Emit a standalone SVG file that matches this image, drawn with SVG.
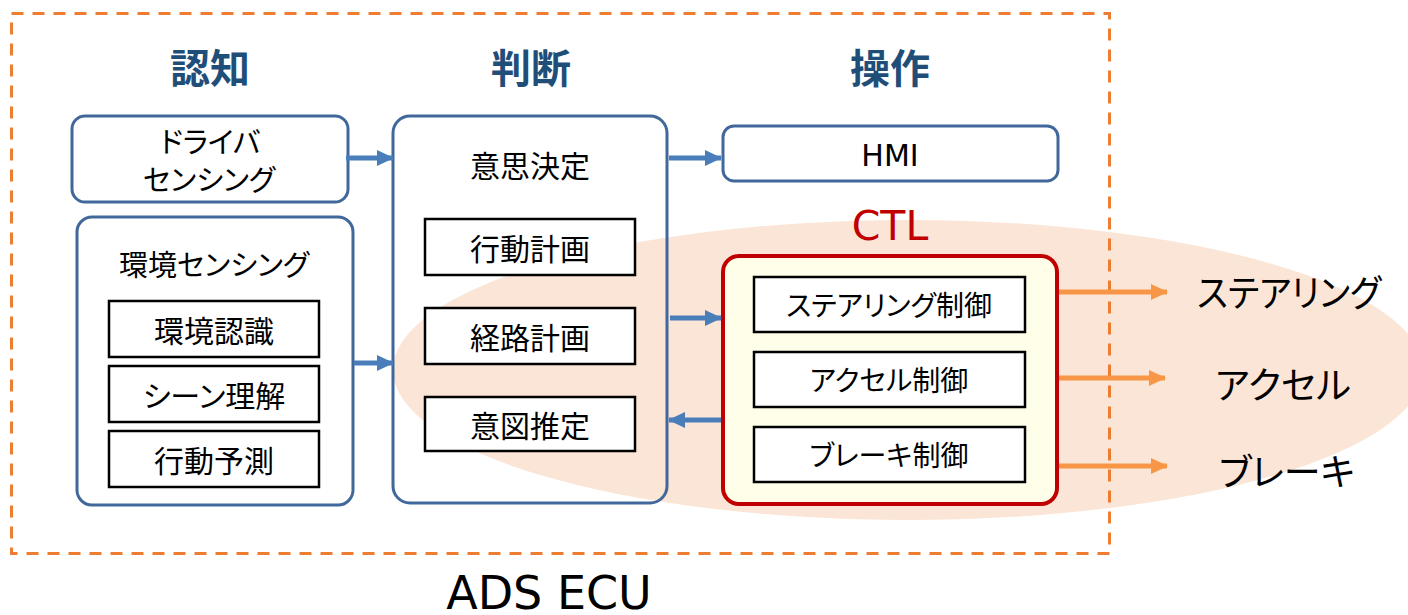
<svg xmlns="http://www.w3.org/2000/svg" width="1408" height="615" viewBox="0 0 1408 615">
<style>
.jp{font-family:"Noto Sans CJK JP","Noto Sans",sans-serif;font-feature-settings:"palt";fill:#000;text-anchor:middle;dominant-baseline:central}
.lat{font-family:"DejaVu Sans","Noto Sans",sans-serif;text-anchor:middle}
.hdr{font-family:"Noto Sans CJK JP",sans-serif;font-weight:bold;font-size:40px;fill:#1F4E79;text-anchor:middle;dominant-baseline:central}
.grp{fill:#fff;stroke:#41689B;stroke-width:3}
.inner{fill:#fff;stroke:#000;stroke-width:2.5}
.barr{stroke:#4A7EBB;stroke-width:5;fill:none}
.oarr{stroke:#F79646;stroke-width:5;fill:none}
</style>
<defs>
<marker id="bh" markerWidth="4" markerHeight="4" refX="3.2" refY="2" orient="auto" markerUnits="strokeWidth" viewBox="0 0 4 4"><path d="M0,0.4 L3.4,2 L0,3.6 Z" fill="#4A7EBB"/></marker>
<marker id="oh" markerWidth="4" markerHeight="4" refX="3.2" refY="2" orient="auto" markerUnits="strokeWidth" viewBox="0 0 4 4"><path d="M0,0.4 L3.4,2 L0,3.6 Z" fill="#F79646"/></marker>
</defs>
<rect width="1408" height="615" fill="#fff"/>
<ellipse id="ctl-area" cx="908" cy="370" rx="515" ry="150" fill="#FBE5D6"/>
<rect id="ads-ecu" x="11.5" y="13.5" width="1098" height="540" fill="none" stroke="#ED7D31" stroke-width="3" stroke-dasharray="12 9"/>
<text class="lat" x="549" y="609" font-size="46">ADS ECU</text>
<g id="headers">
<text class="hdr" x="210" y="66">認知</text>
<text class="hdr" x="531" y="66">判断</text>
<text class="hdr" x="890" y="66">操作</text>
</g>
<g id="driver-sensing">
<rect class="grp" x="72" y="116" width="276" height="86" rx="13"/>
<text class="jp" x="210" y="140" font-size="29">ドライバ</text>
<text class="jp" x="209" y="178" font-size="29">センシング</text>
</g>
<g id="env-sensing">
<rect class="grp" x="77" y="217" width="276" height="288" rx="15"/>
<text class="jp" x="214" y="263" font-size="29">環境センシング</text>
<rect class="inner" x="109" y="301" width="210" height="56"/>
<text class="jp" x="214" y="329" font-size="30">環境認識</text>
<rect class="inner" x="109" y="366" width="210" height="56"/>
<text class="jp" x="214" y="394" font-size="30">シーン理解</text>
<rect class="inner" x="109" y="431" width="210" height="56"/>
<text class="jp" x="214" y="459" font-size="30">行動予測</text>
</g>
<g id="judgment">
<rect class="grp" x="393" y="116" width="274" height="387" rx="17" fill="none" style="fill:none"/>
<text class="jp" x="530" y="164" font-size="30">意思決定</text>
<rect class="inner" x="425" y="219" width="210" height="56"/>
<text class="jp" x="530" y="247" font-size="30">行動計画</text>
<rect class="inner" x="425" y="308" width="210" height="56"/>
<text class="jp" x="530" y="336" font-size="30">経路計画</text>
<rect class="inner" x="425" y="397" width="210" height="54"/>
<text class="jp" x="530" y="424" font-size="30">意図推定</text>
</g>
<g id="hmi">
<rect class="grp" x="723" y="126" width="335" height="55" rx="11"/>
<text class="lat" x="890" y="166" font-size="30">HMI</text>
</g>
<g id="ctl">
<text class="lat" x="890" y="240" font-size="41" fill="#C00000">CTL</text>
<rect x="723" y="256" width="334" height="248" rx="16" fill="#FFFFE9" stroke="#C00000" stroke-width="4"/>
<rect class="inner" x="754" y="277" width="271" height="55"/>
<text class="jp" x="889" y="304" font-size="28">ステアリング制御</text>
<rect class="inner" x="754" y="352" width="271" height="55"/>
<text class="jp" x="889" y="379" font-size="28">アクセル制御</text>
<rect class="inner" x="754" y="427" width="271" height="55"/>
<text class="jp" x="889" y="454" font-size="28">ブレーキ制御</text>
</g>
<g id="actuators">
<text class="jp" x="1289" y="291" font-size="37" textLength="184" lengthAdjust="spacingAndGlyphs">ステアリング</text>
<text class="jp" x="1283" y="383" font-size="37">アクセル</text>
<text class="jp" x="1287" y="470" font-size="37">ブレーキ</text>
</g>
<g id="connectors">
<line class="barr" x1="346" y1="158" x2="393" y2="158" marker-end="url(#bh)"/>
<line class="barr" x1="354" y1="363" x2="393" y2="363" marker-end="url(#bh)"/>
<line class="barr" x1="669" y1="158" x2="721" y2="158" marker-end="url(#bh)"/>
<line class="barr" x1="670" y1="318" x2="721" y2="318" marker-end="url(#bh)"/>
<line class="barr" x1="721" y1="420" x2="669" y2="420" marker-end="url(#bh)"/>
<line class="oarr" x1="1059" y1="292" x2="1167" y2="292" marker-end="url(#oh)"/>
<line class="oarr" x1="1059" y1="378" x2="1165" y2="378" marker-end="url(#oh)"/>
<line class="oarr" x1="1059" y1="466" x2="1167" y2="466" marker-end="url(#oh)"/>
</g>
</svg>
